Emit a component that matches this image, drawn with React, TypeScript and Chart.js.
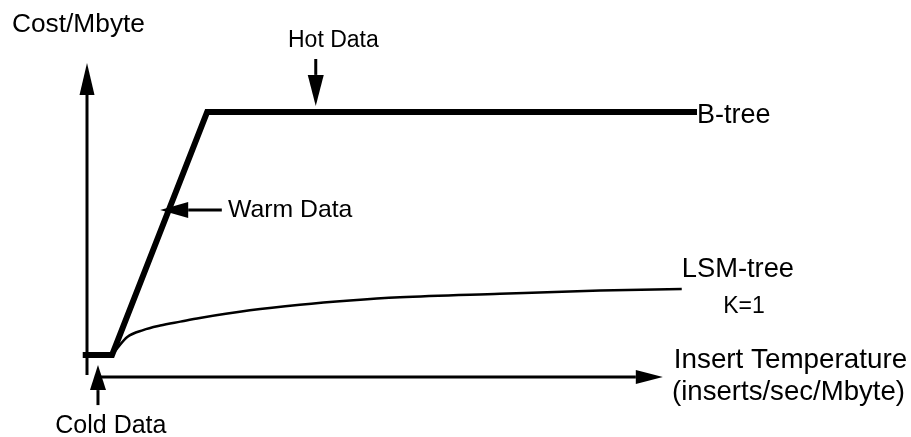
import React, { useEffect, useRef } from "react";
import { Chart, registerables } from "chart.js";

Chart.register(...registerables);

// Schematic data (arbitrary units: temperature 0..100, cost 0..100)
const btreeTemp = [-0.7, 4.1, 19.7, 100];
const btreeCost = [8.3, 8.3, 100, 100];

const lsmTemp = [4.1, 5.0, 6.6, 9.2, 12, 15.3, 18.5, 26.7, 34.9, 43.1, 51.3, 67.7, 84.1, 97.5];
const lsmCost = [8.3, 11.0, 15.1, 17.7, 19.4, 20.9, 22.3, 25.2, 27.3, 28.9, 30.1, 31.4, 32.6, 33.2];

const seriesNames = ["B-tree", "LSM-tree"];

// annotation labels (text, anchor x, anchor y in data units, font size)
const labelTexts = ["Cost/Mbyte", "Hot Data", "Warm Data", "B-tree", "LSM-tree", "K=1", "Insert Temperature", "(inserts/sec/Mbyte)", "Cold Data"];
const labelX = [-12.3, 32.95, 23.1, 100, 97.5, 104.3, 96.2, 95.9, -5.2];
const labelY = [130.2, 124.5, 60.4, 95.8, 37.7, 24.2, 3.4, -8.7, -21.1];
const labelSize = [26.3, 23, 24.8, 27, 27.3, 23, 27.8, 27.6, 25];

const FONT = "'Liberation Sans', Arial, Helvetica, sans-serif";

const annotationPlugin = {
  id: "schematic",
  afterDatasetsDraw(chart: any) {
    const ctx: CanvasRenderingContext2D = chart.ctx;
    const xs = chart.scales.x;
    const ys = chart.scales.y;
    const px = (v: number) => xs.getPixelForValue(v);
    const py = (v: number) => ys.getPixelForValue(v);

    ctx.save();
    ctx.strokeStyle = "#000";
    ctx.fillStyle = "#000";
    ctx.lineCap = "butt";

    const arrow = (x1: number, y1: number, x2: number, y2: number, headLen: number, headW: number, lw: number) => {
      const ang = Math.atan2(y2 - y1, x2 - x1);
      const bx = x2 - headLen * Math.cos(ang);
      const by = y2 - headLen * Math.sin(ang);
      ctx.lineWidth = lw;
      ctx.beginPath();
      ctx.moveTo(x1, y1);
      ctx.lineTo(bx, by);
      ctx.stroke();
      const nx = -Math.sin(ang) * headW / 2;
      const ny = Math.cos(ang) * headW / 2;
      ctx.beginPath();
      ctx.moveTo(x2, y2);
      ctx.lineTo(bx + nx, by + ny);
      ctx.lineTo(bx - nx, by - ny);
      ctx.closePath();
      ctx.fill();
    };

    // y axis
    arrow(px(0), py(0.75), px(0), py(118.5), 32, 15, 3);
    // x axis
    arrow(px(1.8), py(0), px(94.4), py(0), 27, 14, 3);
    // Hot Data arrow
    arrow(px(37.5), py(120), px(37.5), py(102.3), 31, 16, 3);
    // Warm Data arrow
    arrow(px(22.1), py(63), px(12), py(63), 28, 16, 3);
    // Cold Data arrow
    arrow(px(1.8), py(-10.6), px(1.8), py(4.5), 25, 16, 3);

    ctx.textAlign = "left";
    ctx.textBaseline = "alphabetic";
    for (let i = 0; i < labelTexts.length; i++) {
      ctx.font = `${labelSize[i]}px ${FONT}`;
      ctx.fillText(labelTexts[i], px(labelX[i]), py(labelY[i]));
    }
    ctx.restore();
  },
};

export default function App() {
  const ref = useRef<HTMLCanvasElement | null>(null);
  useEffect(() => {
    if (!ref.current) return;
    const chart = new Chart(ref.current, {
      type: "scatter",
      data: {
        datasets: [
          {
            label: seriesNames[0],
            data: btreeTemp.map((t, i) => ({ x: t, y: btreeCost[i] })),
            showLine: true,
            borderColor: "#000",
            backgroundColor: "#000",
            borderWidth: 6,
            pointRadius: 0,
            tension: 0,
            borderJoinStyle: "miter",
            borderCapStyle: "butt",
            clip: false,
          } as any,
          {
            label: seriesNames[1],
            data: lsmTemp.map((t, i) => ({ x: t, y: lsmCost[i] })),
            showLine: true,
            borderColor: "#000",
            backgroundColor: "#000",
            borderWidth: 2.5,
            pointRadius: 0,
            cubicInterpolationMode: "monotone",
            clip: false,
          } as any,
        ],
      },
      options: {
        animation: false,
        responsive: false,
        devicePixelRatio: 1,
        layout: { padding: { left: 87, right: 214, top: 112, bottom: 60 } },
        plugins: { legend: { display: false }, tooltip: { enabled: false } },
        events: [],
        scales: {
          x: { type: "linear", min: 0, max: 100, display: false },
          y: { type: "linear", min: 0, max: 100, display: false },
        },
      },
      plugins: [annotationPlugin],
    });
    return () => chart.destroy();
  }, []);
  return (
    <div style={{ position: "fixed", left: 0, top: 0, width: 911, height: 437, background: "#fff" }}>
      <canvas ref={ref} width={911} height={437} />
    </div>
  );
}
